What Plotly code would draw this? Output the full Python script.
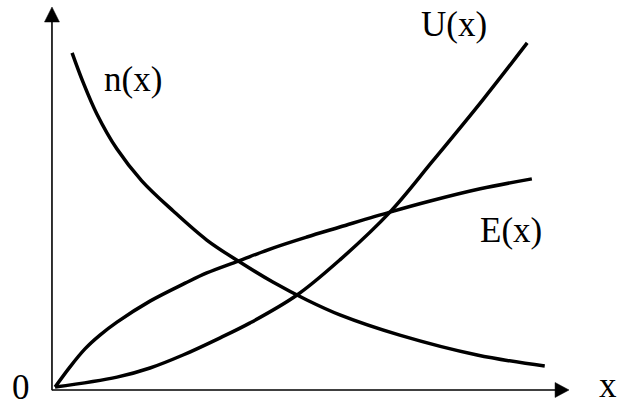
import plotly.graph_objects as go

# Curve samples (arbitrary units, axes run 0..10)
n_x = [0.37, 0.58, 0.85, 1.24, 1.72, 2.33, 2.98, 3.59, 4.26, 4.92, 5.56, 6.72, 8.22, 9.53]
n_y = [8.80, 8.04, 7.20, 6.28, 5.45, 4.66, 3.90, 3.35, 2.80, 2.33, 1.94, 1.41, 0.89, 0.60]

E_x = [0.04, 0.33, 0.62, 0.91, 1.24, 1.88, 2.56, 2.98, 3.59, 4.26, 4.92, 5.56, 6.53, 7.31, 8.28, 9.28]
E_y = [0.05, 0.58, 1.05, 1.41, 1.75, 2.30, 2.77, 3.04, 3.35, 3.69, 3.98, 4.24, 4.63, 4.92, 5.24, 5.50]

U_x = [0.04, 1.24, 1.88, 2.52, 3.24, 3.82, 4.73, 5.56, 6.53, 7.36, 8.33, 9.19]
U_y = [0.05, 0.31, 0.55, 0.89, 1.34, 1.73, 2.46, 3.38, 4.63, 5.97, 7.57, 9.06]

labels = ["n(x)", "U(x)", "E(x)", "0", "x"]
label_x = [1.55, 7.77, 8.88, -0.62, 10.76]
label_y = [8.09, 9.53, 4.16, 0.03, 0.08]

FONT = "Liberation Serif, Times New Roman, serif"

fig = go.Figure()
for xs, ys in [(n_x, n_y), (E_x, E_y), (U_x, U_y)]:
    fig.add_trace(go.Scatter(x=xs, y=ys, mode="lines",
                             line=dict(color="black", width=3.5, shape="spline", smoothing=1.0),
                             hoverinfo="skip", showlegend=False))

# axes with arrowheads
shapes = [
    dict(type="line", x0=-0.02, y0=-0.03, x1=-0.02, y1=9.7, line=dict(color="black", width=1.6)),
    dict(type="line", x0=-0.02, y0=-0.026, x1=9.8, y1=-0.026, line=dict(color="black", width=1.6)),
    dict(type="path", path="M -0.02 10.0 L -0.165 9.607 L 0.125 9.607 Z",
         fillcolor="black", line=dict(color="black", width=0.5)),
    dict(type="path", path="M 10.0 -0.026 L 9.73 0.17 L 9.73 -0.222 Z",
         fillcolor="black", line=dict(color="black", width=0.5)),
]

annotations = [dict(x=x, y=y, text=t, showarrow=False, xref="x", yref="y",
                    font=dict(family=FONT, size=35, color="black"),
                    xanchor="center", yanchor="middle")
               for t, x, y in zip(labels, label_x, label_y)]

fig.update_layout(
    width=617, height=407,
    margin=dict(l=0, r=0, t=0, b=0),
    paper_bgcolor="white", plot_bgcolor="white",
    xaxis=dict(range=[-53/51.6, 564/51.6], visible=False, fixedrange=True),
    yaxis=dict(range=[-18/38.2, 389/38.2], visible=False, fixedrange=True),
    shapes=shapes, annotations=annotations, showlegend=False,
)
fig.write_html("out.html", config={"displayModeBar": False},
               post_script="document.body.style.margin='0px';document.body.style.overflow='hidden';")
